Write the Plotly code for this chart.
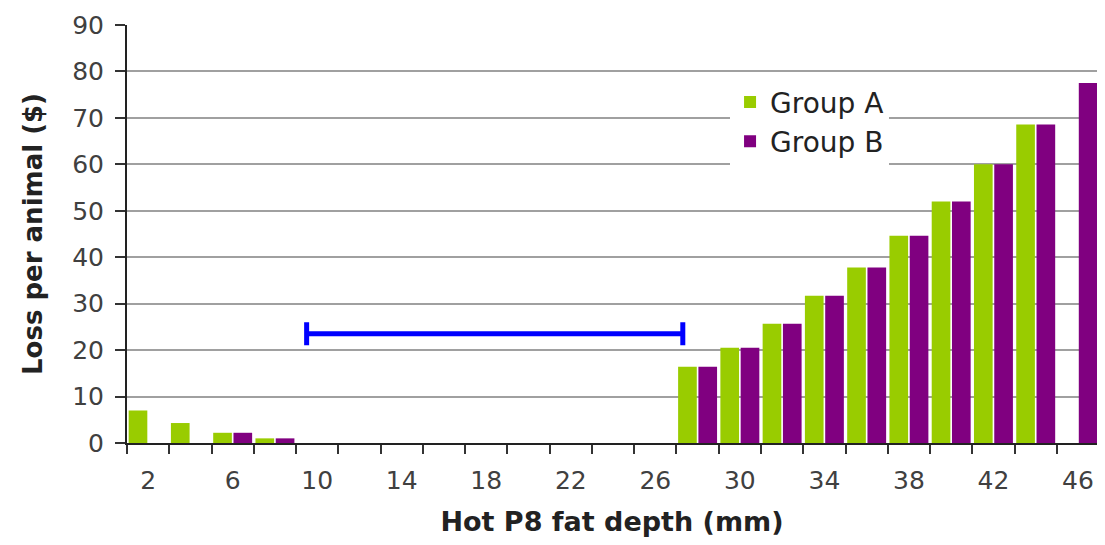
import plotly.graph_objects as go

# ---- data ----
depth_mm = [2, 4, 6, 8, 10, 12, 14, 16, 18, 20, 22, 24, 26, 28, 30, 32, 34, 36, 38, 40, 42, 44, 46]
group_a = [7.0, 4.3, 2.2, 1.0, 0, 0, 0, 0, 0, 0, 0, 0, 0,
           16.4, 20.5, 25.7, 31.7, 37.8, 44.6, 52.0, 60.0, 68.6, 0]
group_b = [0, 0, 2.2, 1.0, 0, 0, 0, 0, 0, 0, 0, 0, 0,
           16.4, 20.5, 25.7, 31.7, 37.8, 44.6, 52.0, 60.0, 68.6, 77.5]
x_tick_labels = [2, 6, 10, 14, 18, 22, 26, 30, 34, 38, 42, 46]
y_ticks = [0, 10, 20, 30, 40, 50, 60, 70, 80, 90]
# target range bracket (mm), drawn at a loss level
bracket_start = 9.5
bracket_end = 27.3
bracket_level = 23.5

GREEN = "#99cc00"
PURPLE = "#800080"
BLUE = "#0000ff"

fig = go.Figure()
fig.add_trace(go.Bar(x=depth_mm, y=group_a, name="Group A",
                     marker=dict(color=GREEN, line=dict(width=0))))
fig.add_trace(go.Bar(x=depth_mm, y=group_b, name="Group B",
                     marker=dict(color=PURPLE, line=dict(width=0))))

mid = (bracket_start + bracket_end) / 2
half = (bracket_end - bracket_start) / 2
fig.add_trace(go.Scatter(
    x=[mid], y=[bracket_level], mode="markers",
    marker=dict(size=1, color=BLUE, opacity=0),
    error_x=dict(type="data", array=[half], symmetric=True,
                 color=BLUE, thickness=5, width=11.5),
    showlegend=False, hoverinfo="skip"))

boundaries = [d - 1 for d in depth_mm] + [depth_mm[-1] + 1]

fig.update_layout(
    width=1089, height=529,
    margin=dict(l=119, r=0, t=17, b=94, autoexpand=False),
    paper_bgcolor="white", plot_bgcolor="white",
    barmode="group", bargap=0.04, bargroupgap=0.08,
    font=dict(family="DejaVu Sans", color="#333333"),
    legend=dict(x=0.6217, y=0.875, xanchor="left", yanchor="top",
                bgcolor="white", font=dict(size=28, color="#222222"),
                traceorder="normal"),
    xaxis=dict(
        automargin=False,
        range=[1, 46.9],
        tickvals=x_tick_labels, ticktext=[str(v) for v in x_tick_labels],
        ticks="", tickfont=dict(size=25, color="#404040"),
        ticklabeloverflow="allow",
        minor=dict(tickvals=boundaries, ticks="outside", ticklen=9,
                   tickwidth=2, tickcolor="#333333", showgrid=False),
        showline=True, linecolor="#222222", linewidth=2,
        showgrid=False, zeroline=False,
        ticklabelstandoff=14,
        title=dict(text="<b>Hot P8 fat depth (mm)</b>",
                   font=dict(size=27, color="#222222"), standoff=24),
    ),
    yaxis=dict(
        automargin=False,
        range=[0, 90], tickvals=y_ticks,
        ticks="outside", ticklen=10, tickwidth=2, tickcolor="#333333",
        tickfont=dict(size=25, color="#404040"),
        showline=True, linecolor="#222222", linewidth=2,
        showgrid=True, gridcolor="#a0a0a0", gridwidth=1.5,
        zeroline=False,
        ticklabelstandoff=6,
        title=dict(text="<b>Loss per animal ($)</b>",
                   font=dict(size=26, color="#222222"), standoff=22),
    ),
)

fig.write_html("out.html")
